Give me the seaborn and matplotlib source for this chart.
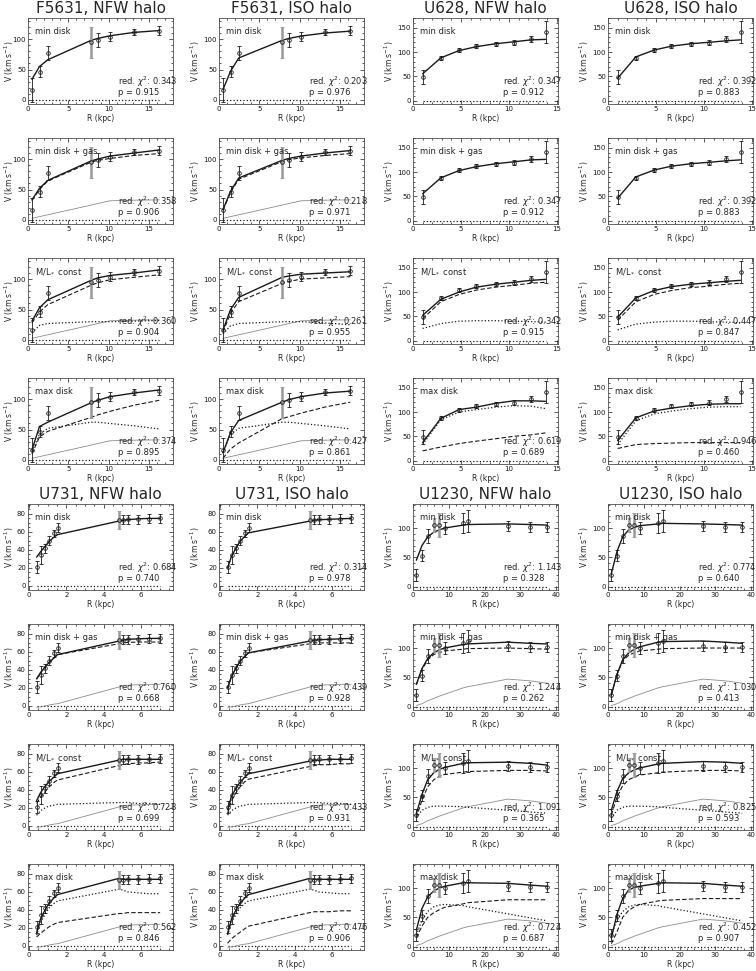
import numpy as np
import seaborn as sns
import matplotlib.pyplot as plt
from matplotlib.ticker import AutoMinorLocator, MultipleLocator

# ---- observed rotation curves ----
f5631_r = [0.49, 1.43, 2.45, 7.85, 8.66, 10.2, 13.2, 16.3]
f5631_v = [16.5, 46.5, 77, 94.5, 98, 104, 111.5, 114]
f5631_e = [20, 9, 11.5, 26, 11.5, 7, 4.7, 7]
f5631_grey = [0, 0, 0, 1, 0, 0, 0, 0]
f5631_gas = [2.7, 5.5, 8.5, 24.5, 27, 31.5, 32.5, 33]

u628_r = [1.0, 2.9, 4.8, 6.6, 8.6, 10.5, 12.3, 13.8]
u628_v = [48.5, 88, 104, 111.5, 117, 119.5, 126, 141]
u628_e = [14, 4, 5, 4, 4, 6, 6, 22]
u628_grey = [0, 0, 0, 0, 0, 0, 0, 0]
u628_gas = None

u731_r = [0.41, 0.62, 0.86, 1.06, 1.32, 1.53, 4.80, 5.04, 5.27, 5.83, 6.41, 7.01]
u731_v = [21, 34, 42, 50, 58.5, 64.5, 73, 73.5, 74, 74, 74.5, 75]
u731_e = [7, 10, 5, 5, 4, 5, 10, 5, 5, 5, 5, 5]
u731_grey = [0, 0, 0, 0, 0, 0, 1, 0, 0, 0, 0, 0]
u731_gas = [-1.5, -1, 0, 1, 2, 2.5, 21, 22, 23, 23.5, 24, 24]

u1230_r = [0.93, 2.5, 4.1, 5.8, 7.4, 8.8, 14.0, 15.3, 26.5, 32.8, 37.5]
u1230_v = [19.5, 53, 87, 104.5, 105.5, 100.5, 108.5, 112, 103.5, 101.5, 101.5]
u1230_e = [10, 10, 12, 12, 20, 10, 17, 18, 9, 9, 9]
u1230_grey = [0, 0, 0, 1, 1, 0, 0, 0, 0, 0, 0]
u1230_gas = [2, 5, 10, 14, 18, 21, 32, 34, 47, 44, 40]

row_labels = ["min disk", "min disk + gas", r"M/L$_*$ const", "max disk"]

# ---- model curves (total, halo, disk) per row ----
f5631_nfw_tot = [[34, 55, 66, 98, 101, 105.5, 111, 114],
                 [33, 52, 65, 97, 100, 105, 110, 115],
                 [31, 53, 66, 98, 102, 106, 110, 115],
                 [17, 55, 62, 94, 98, 104, 110, 115]]
f5631_nfw_halo = [None,
                  [32, 50, 64, 95, 98, 101, 106, 109],
                  [28, 46, 58, 90, 94, 99, 103, 107],
                  [10, 38, 47, 70, 74, 80, 90, 98]]
f5631_nfw_disk = [None, None,
                  [12, 24, 27, 30, 30, 30, 31, 32],
                  [14, 42, 52, 62, 62, 60, 56, 51]]
f5631_nfw_chi = [(0.343, 0.915), (0.358, 0.906), (0.360, 0.904), (0.374, 0.895)]

f5631_iso_tot = [[17, 47, 69, 98, 101, 105, 110, 113],
                 [17, 47, 69, 98, 101, 105, 110, 114],
                 [16, 50, 70, 103, 105, 108, 110, 112],
                 [12, 45, 65, 95, 99, 104, 110, 113]]
f5631_iso_halo = [None,
                  [16, 45, 67, 96, 99, 102, 106, 109],
                  [13, 44, 63, 93, 96, 100, 102, 104],
                  [3, 18, 28, 68, 71, 77, 87, 95]]
f5631_iso_disk = [None, None,
                  [10, 23, 27, 30, 30, 30, 28, 25],
                  [12, 42, 52, 62, 62, 60, 56, 51]]
f5631_iso_chi = [(0.203, 0.976), (0.218, 0.971), (0.261, 0.955), (0.427, 0.861)]

u628_nfw_tot = [[55, 88, 103, 111, 117, 121, 125, 126],
                [55, 88, 103, 111, 117, 121, 125, 126],
                [52, 85, 100, 110, 116, 120, 124, 126],
                [37, 87, 105, 110, 118, 123, 123, 122]]
u628_nfw_halo = [None, None,
                 [45, 80, 95, 104, 110, 114, 118, 120],
                 [20, 28, 35, 40, 45, 50, 53, 57]]
u628_nfw_disk = [None, None,
                 [25, 35, 40, 41, 41, 40, 39, 38],
                 [33, 84, 100, 105, 110, 113, 112, 107]]
u628_nfw_chi = [(0.347, 0.912), (0.347, 0.912), (0.342, 0.915), (0.619, 0.689)]

u628_iso_tot = [[46, 90, 104, 112, 117, 120, 123, 125],
                [46, 90, 104, 112, 117, 120, 123, 125],
                [48, 88, 103, 111, 116, 119, 122, 124],
                [41, 88, 102, 108, 113, 116, 117, 117]]
u628_iso_halo = [None, None,
                 [42, 80, 95, 103, 109, 112, 116, 118],
                 [25, 33, 35, 36, 37, 37, 37, 37]]
u628_iso_disk = [None, None,
                 [22, 34, 38, 40, 40, 39, 38, 37],
                 [33, 82, 96, 102, 107, 110, 111, 111]]
u628_iso_chi = [(0.392, 0.883), (0.392, 0.883), (0.447, 0.847), (0.946, 0.460)]

u731_nfw_tot = [[32, 38, 44, 49, 54, 57, 72, 73, 73.5, 74.5, 75, 75],
                [30, 37, 43, 48, 53, 57, 72, 73, 74, 74.5, 75, 75],
                [28, 37, 44, 49, 54, 58, 73, 74, 74, 74, 74, 74],
                [15, 30, 40, 47, 53, 57, 75, 74, 74, 74, 74, 74]]
u731_nfw_halo = [None,
                 [30, 37, 43, 48, 53, 57, 69, 70, 70.5, 71, 71, 71],
                 [25, 32, 38, 43, 48, 51, 67, 68, 69, 70, 70, 71],
                 [10, 14, 18, 21, 24, 26, 36, 36, 37, 37, 37, 37]]
u731_nfw_disk = [None, None,
                 [12, 17, 20, 22, 23, 24, 26, 26, 26, 25, 25, 24],
                 [12, 26, 35, 42, 47, 50, 63, 62, 60, 59, 58, 58]]
u731_nfw_chi = [(0.684, 0.740), (0.760, 0.668), (0.728, 0.699), (0.562, 0.846)]

u731_iso_tot = [[20, 33, 42, 49, 55, 59, 72, 73, 73.5, 74, 74.5, 75],
                [20, 33, 42, 49, 55, 59, 72, 73, 73.5, 74, 74.5, 75],
                [18, 33, 42, 48, 54, 58, 72, 73, 73, 74, 74, 74],
                [14, 30, 40, 47, 53, 57, 75, 74, 74, 74, 74, 74]]
u731_iso_halo = [None,
                 [20, 33, 42, 49, 55, 59, 69, 70, 70, 70, 70, 70],
                 [14, 28, 37, 43, 49, 52, 66, 67, 68, 68, 69, 69],
                 [3, 8, 12, 15, 19, 22, 37, 38, 38, 38, 39, 39]]
u731_iso_disk = [None, None,
                 [12, 17, 20, 22, 23, 24, 26, 26, 26, 25, 25, 24],
                 [12, 26, 35, 42, 47, 50, 63, 62, 60, 59, 58, 58]]
u731_iso_chi = [(0.314, 0.978), (0.439, 0.928), (0.433, 0.931), (0.476, 0.906)]

u1230_nfw_tot = [[45, 70, 85, 93, 97, 100, 105, 106, 107, 106, 105],
                 [38, 65, 82, 92, 97, 100, 106, 107, 110, 108, 107],
                 [22, 55, 80, 92, 98, 101, 108, 109, 110, 108, 105],
                 [28, 65, 85, 95, 100, 103, 109, 109, 108, 105, 103]]
u1230_nfw_halo = [None,
                  [37, 63, 80, 89, 92, 95, 98, 99, 100, 99, 98],
                  [15, 45, 68, 80, 86, 89, 93, 94, 96, 96, 95],
                  [15, 35, 50, 58, 63, 67, 73, 75, 80, 80, 80]]
u1230_nfw_disk = [None, None,
                  [15, 28, 33, 35, 35, 35, 34, 33, 28, 25, 23],
                  [20, 45, 60, 68, 71, 72, 70, 68, 56, 49, 44]]
u1230_nfw_chi = [(1.143, 0.328), (1.244, 0.262), (1.091, 0.365), (0.724, 0.687)]

u1230_iso_tot = [[22, 60, 85, 97, 101, 104, 107, 108, 107, 106, 105],
                 [20, 55, 80, 92, 98, 102, 110, 111, 112, 110, 108],
                 [28, 60, 82, 92, 97, 100, 107, 108, 111, 110, 108],
                 [15, 55, 82, 97, 101, 103, 108, 109, 108, 105, 103]]
u1230_iso_halo = [None,
                  [20, 55, 78, 88, 92, 95, 98, 99, 100, 100, 100],
                  [20, 50, 70, 80, 85, 88, 92, 93, 96, 96, 95],
                  [5, 25, 50, 62, 68, 72, 78, 79, 82, 82, 82]]
u1230_iso_disk = [None, None,
                  [14, 28, 33, 35, 35, 35, 34, 33, 28, 25, 23],
                  [20, 45, 60, 68, 71, 72, 70, 68, 56, 49, 44]]
u1230_iso_chi = [(0.774, 0.640), (1.030, 0.413), (0.825, 0.593), (0.452, 0.907)]

sns.set_theme(style="ticks")
plt.rcParams['font.family'] = ['DejaVu Sans']
plt.rcParams['mathtext.fontset'] = 'dejavusans'

fig = plt.figure(figsize=(7.56, 9.71), dpi=100)
W, H = 756.0, 971.0
col_left = [28, 219, 413, 608]
ylab_x = [-0.085, -0.12, -0.12, -0.12]
row_top = [18, 138, 258, 378, 504, 624, 744, 864]
ax_w, ax_h = 145, 86

panels = [
    (0, 0, "F5631", "NFW", f5631_r, f5631_v, f5631_e, f5631_grey, f5631_gas, f5631_nfw_tot, f5631_nfw_halo, f5631_nfw_disk, f5631_nfw_chi, (0, 18), (-6.6, 134.6), 5, 50),
    (0, 1, "F5631", "ISO", f5631_r, f5631_v, f5631_e, f5631_grey, f5631_gas, f5631_iso_tot, f5631_iso_halo, f5631_iso_disk, f5631_iso_chi, (0, 18), (-6.6, 134.6), 5, 50),
    (0, 2, "U628", "NFW", u628_r, u628_v, u628_e, u628_grey, u628_gas, u628_nfw_tot, u628_nfw_halo, u628_nfw_disk, u628_nfw_chi, (0, 15.1), (-7, 170), 5, 50),
    (0, 3, "U628", "ISO", u628_r, u628_v, u628_e, u628_grey, u628_gas, u628_iso_tot, u628_iso_halo, u628_iso_disk, u628_iso_chi, (0, 15.1), (-7, 170), 5, 50),
    (4, 0, "U731", "NFW", u731_r, u731_v, u731_e, u731_grey, u731_gas, u731_nfw_tot, u731_nfw_halo, u731_nfw_disk, u731_nfw_chi, (-0.05, 7.7), (-4.5, 91), 2, 20),
    (4, 1, "U731", "ISO", u731_r, u731_v, u731_e, u731_grey, u731_gas, u731_iso_tot, u731_iso_halo, u731_iso_disk, u731_iso_chi, (-0.05, 7.7), (-4.5, 91), 2, 20),
    (4, 2, "U1230", "NFW", u1230_r, u1230_v, u1230_e, u1230_grey, u1230_gas, u1230_nfw_tot, u1230_nfw_halo, u1230_nfw_disk, u1230_nfw_chi, (0, 40.5), (-5.7, 141), 10, 50),
    (4, 3, "U1230", "ISO", u1230_r, u1230_v, u1230_e, u1230_grey, u1230_gas, u1230_iso_tot, u1230_iso_halo, u1230_iso_disk, u1230_iso_chi, (0, 40.5), (-5.7, 141), 10, 50),
]

for block, col, name, halo, r, v, e, grey, gas, tot, hal, disk, chi, xlim, ylim, xmaj, ymaj in panels:
    x0 = col_left[col]
    fig.text((x0 + ax_w / 2) / W, 1 - (row_top[block] - 2) / H, f"{name}, {halo} halo",
             ha="center", va="bottom", fontsize=11)
    r_a, v_a, e_a, g_a = map(np.asarray, (r, v, e, grey))
    for i in range(4):
        top = row_top[block + i]
        ax = fig.add_axes([x0 / W, 1 - (top + ax_h) / H, ax_w / W, ax_h / H])
        # zero (bulge) line
        sns.lineplot(x=[r[0], r[-1]], y=[0, 0], ax=ax, color="k", linestyle=":", lw=0.9)
        if i > 0 and gas is not None:
            sns.lineplot(x=r, y=gas, ax=ax, color="0.55", lw=0.6, sort=False)
        if disk[i] is not None:
            sns.lineplot(x=r, y=disk[i], ax=ax, color="k", linestyle=":", lw=0.9, sort=False)
        if hal[i] is not None:
            sns.lineplot(x=r, y=hal[i], ax=ax, color="k", linestyle=(0, (4, 2)), lw=0.8, sort=False)
        sns.lineplot(x=r, y=tot[i], ax=ax, color="k", lw=1.0, sort=False)
        # grey (wide) error bars first, then the regular black ones
        gm = g_a == 1
        if gm.any():
            ax.errorbar(r_a[gm], v_a[gm], yerr=e_a[gm], fmt="none", ecolor="0.6",
                        elinewidth=1.8, capsize=1.5, capthick=0.6)
        ax.errorbar(r_a[~gm], v_a[~gm], yerr=e_a[~gm], fmt="none", ecolor="k",
                    elinewidth=0.6, capsize=1.5, capthick=0.6)
        ax.plot(r_a, v_a, "o", ms=2.6, mfc="none", mec="k", mew=0.6)
        ax.set_xlim(*xlim)
        ax.set_ylim(*ylim)
        ax.xaxis.set_major_locator(MultipleLocator(xmaj))
        ax.yaxis.set_major_locator(MultipleLocator(ymaj))
        ax.xaxis.set_minor_locator(AutoMinorLocator(5 if xmaj != 2 else 4))
        ax.yaxis.set_minor_locator(AutoMinorLocator(5 if ymaj != 20 else 4))
        ax.tick_params(which="both", direction="in", top=True, right=True,
                       labelsize=5, pad=1.5, width=0.5, colors="k")
        ax.tick_params(which="major", length=3)
        ax.tick_params(which="minor", length=1.5)
        for s in ax.spines.values():
            s.set_linewidth(0.6)
            s.set_color("0.3")
        ax.set_xlabel("R (kpc)", fontsize=5.5, labelpad=1.5)
        ax.set_ylabel(r"V (km s$^{-1}$)", fontsize=5.5)
        ax.yaxis.set_label_coords(ylab_x[col], 0.5)
        ax.text(0.05, 0.9, row_labels[i], transform=ax.transAxes, fontsize=6, va="top")
        ax.text(0.62, 0.26, rf"red. $\chi^2$: {chi[i][0]:.3f}", transform=ax.transAxes, fontsize=6, va="center")
        ax.text(0.62, 0.13, f"p = {chi[i][1]:.3f}", transform=ax.transAxes, fontsize=6, va="center")

fig.savefig("out.png", dpi=100)
